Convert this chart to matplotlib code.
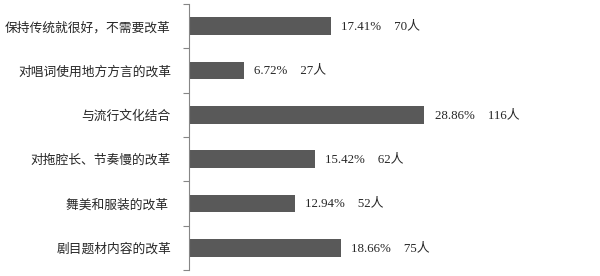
import matplotlib.pyplot as plt
import numpy as np

# 数据
categories = ['保持传统就很好，不需要改革', '对唱词使用地方方言的改革', '与流行文化结合',
              '对拖腔长、节奏慢的改革', '舞美和服装的改革 ', '剧目题材内容的改革']
percents = [17.41, 6.72, 28.86, 15.42, 12.94, 18.66]
counts = [70, 27, 116, 62, 52, 75]

plt.rcParams['font.family'] = ['Noto Sans CJK SC', 'DejaVu Sans']

fig = plt.figure(figsize=(6, 2.76), dpi=100)
ax = fig.add_axes([0.315, 0.0217, 0.68, 0.9638])

y = np.arange(len(categories))[::-1]
ax.barh(y, percents, height=0.4, color='#595959')

for yi, p, c in zip(y, percents, counts):
    ax.text(p + 1.25, yi, f'{p:.2f}%    {c}人', va='center', ha='left', fontsize=9.3,
            color='#262626', family=['Liberation Serif', 'Noto Sans CJK SC'])

ax.set_xlim(0, 50)
ax.set_ylim(-0.5, len(categories) - 0.5)
ax.set_xticks([])
ax.set_yticks(np.arange(-0.5, len(categories), 1.0))
ax.set_yticklabels([])
ax.set_yticks(y, categories, minor=True)
ax.tick_params(axis='y', which='major', length=4, color='#868686', direction='out')
ax.tick_params(axis='y', which='minor', length=0, pad=13, labelsize=9.2, labelcolor='#262626')

for s in ['top', 'right', 'bottom']:
    ax.spines[s].set_visible(False)
ax.spines['left'].set_color('#868686')

fig.savefig('out.png', dpi=100)
